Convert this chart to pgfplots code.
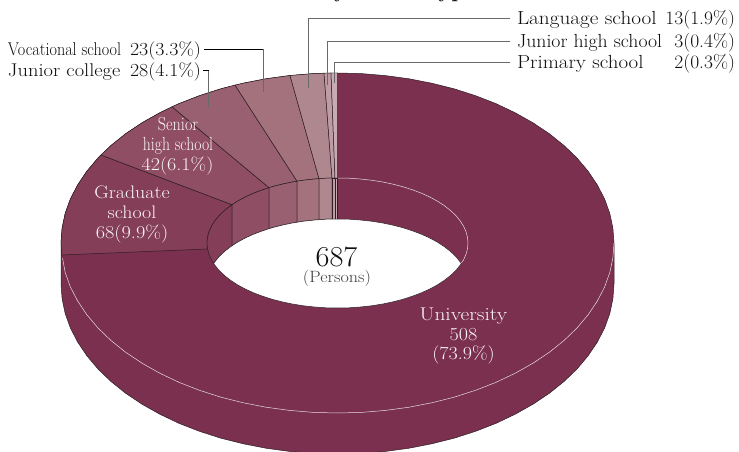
\documentclass[border=0pt]{standalone}
\usepackage{pgfplots}
\pgfplotsset{compat=1.18}
\definecolor{cuniv}{RGB}{122,48,78}
\definecolor{cgrad}{RGB}{132,62,88}
\definecolor{csr}{RGB}{143,78,100}
\definecolor{cjc}{RGB}{152,96,113}
\definecolor{cvoc}{RGB}{163,114,125}
\definecolor{clang}{RGB}{175,136,143}
\definecolor{cjhs}{RGB}{190,155,165}
\definecolor{cprim}{RGB}{200,170,178}
\definecolor{edge}{RGB}{45,30,36}
\definecolor{lite}{RGB}{232,222,226}
\definecolor{wtxt}{RGB}{250,245,247}
\definecolor{lead}{RGB}{105,105,105}
\definecolor{ink}{RGB}{15,15,15}
\newcommand\fs[1]{\fontsize{#1}{#1}\selectfont}
\begin{document}
\begin{tikzpicture}
\useasboundingbox (0,0) rectangle (739bp,452bp);
\clip (0,0) rectangle (739bp,452bp);
\begin{axis}[at={(0,0)},anchor=south west,width=739bp,height=452bp,scale only axis,
  xmin=0,xmax=739,ymin=0,ymax=452,y dir=reverse,hide axis,clip=false]
% body
\addplot[fill=cuniv,draw=edge,line width=.5pt] coordinates {
(61,284)(61,243)(62.1,228.2)(65.2,213.5)(70.4,199)(77.7,184.9)(86.9,171.2)(98,158)(111,145.5)(125.7,133.7)(142,122.8)(159.8,112.8)(178.9,103.7)(199.2,95.8)(220.6,88.9)(242.9,83.3)(265.9,78.8)(289.5,75.6)(313.4,73.6)(337.5,73)
(361.6,73.6)(385.5,75.6)(409.1,78.8)(432.1,83.3)(454.4,88.9)(475.8,95.8)(496.1,103.7)(515.2,112.8)(533,122.8)(549.3,133.7)(564,145.5)(577,158)(588.1,171.2)(597.3,184.9)(604.6,199)(609.8,213.5)(612.9,228.2)(614,243)
(614,284)(612.9,298.8)(609.8,313.5)(604.6,328)(597.3,342.1)(588.1,355.8)(577,369)(564,381.5)(549.3,393.3)(533,404.2)(515.2,414.2)(496.1,423.3)(475.8,431.2)(454.4,438.1)(432.1,443.7)(409.1,448.2)(385.5,451.4)(361.6,453.4)(337.5,454)
(313.4,453.4)(289.5,451.4)(265.9,448.2)(242.9,443.7)(220.6,438.1)(199.2,431.2)(178.9,423.3)(159.8,414.2)(142,404.2)(125.7,393.3)(111,381.5)(98,369)(86.9,355.8)(77.7,342.1)(70.4,328)(65.2,313.5)(62.1,298.8)(61,284)
} -- cycle;
% wedges
\addplot[fill=cgrad,draw=edge,line width=.5pt] coordinates {(61.8,255)(61,243)(62.1,228.2)(65.2,213.5)(70.4,199)(77.7,184.9)(86.9,171.2)(98,158)(101,155)(232,204.7)(230.6,205.7)(224.5,210.5)(219.2,215.5)(214.9,220.8)(211.4,226.2)(209,231.7)(207.5,237.3)(207,243)(207.2,249)} -- cycle;
\addplot[fill=csr,draw=edge,line width=.5pt] coordinates {(101,155)(111,145.5)(125.7,133.7)(142,122.8)(159.8,112.8)(172,106.8)(269,187.7)(262.6,189.8)(253.6,193.2)(245.2,197)(237.5,201.2)(232,204.7)} -- cycle;
\addplot[fill=cjc,draw=edge,line width=.5pt] coordinates {(172,106.8)(178.9,103.7)(199.2,95.8)(220.6,88.9)(235,85.1)(297,181.2)(292.9,181.9)(282.3,184.1)(272.2,186.7)(269,187.7)} -- cycle;
\addplot[fill=cvoc,draw=edge,line width=.5pt] coordinates {(235,85.1)(242.9,83.3)(265.9,78.8)(290,75.5)(319,178.7)(314.8,179)(303.7,180.2)(297,181.2)} -- cycle;
\addplot[fill=clang,draw=edge,line width=.5pt] coordinates {(290,75.5)(313.4,73.6)(324,73.2)(332,178)(326.1,178.2)(319,178.7)} -- cycle;
\addplot[fill=cjhs,draw=edge,line width=.5pt] coordinates {(324,73.2)(331,73)(335,178)(332,178)} -- cycle;
\addplot[fill=cprim,draw=edge,line width=.5pt] coordinates {(331,73)(337.5,73)(337.5,178)(335,178)} -- cycle;
% inner wall
\addplot[fill=cgrad,draw=edge,line width=.5pt] coordinates {(232,204.7)(230.6,205.7)(224.5,210.5)(219.2,215.5)(214.9,220.8)(211.4,226.2)(209,231.7)(207.5,237.3)(207,243)(207.5,248.7)(209,254.3)(211.4,259.8)(213.6,263.5)(214.9,261.8)(219.2,256.5)(224.5,251.5)(230.6,246.7)(232,245.7)} -- cycle;
\addplot[fill=csr,draw=edge,line width=.5pt] coordinates {(232,204.7)(237.5,201.2)(245.2,197)(253.6,193.2)(262.6,189.8)(269,187.7)(269,228.7)(262.6,230.8)(253.6,234.2)(245.2,238)(237.5,242.2)(232,245.7)} -- cycle;
\addplot[fill=cjc,draw=edge,line width=.5pt] coordinates {(269,187.7)(272.2,186.7)(282.3,184.1)(292.9,181.9)(297,181.2)(297,222.2)(292.9,222.9)(282.3,225.1)(272.2,227.7)(269,228.7)} -- cycle;
\addplot[fill=cvoc,draw=edge,line width=.5pt] coordinates {(297,181.2)(303.7,180.2)(314.8,179)(319,178.7)(319,219.7)(314.8,220)(303.7,221.2)(297,222.2)} -- cycle;
\addplot[fill=clang,draw=edge,line width=.5pt] coordinates {(319,178.7)(326.1,178.2)(332,178)(332,219)(326.1,219.2)(319,219.7)} -- cycle;
\addplot[fill=cjhs,draw=edge,line width=.5pt] coordinates {(332,178)(335,178)(335,219)(332,219)} -- cycle;
\addplot[fill=cprim,draw=edge,line width=.5pt] coordinates {(335,178)(337.5,178)(337.5,219)(335,219)} -- cycle;
% hole
\addplot[fill=white,draw=edge,line width=.5pt] coordinates {
(213.6,263.5)(214.9,261.8)(219.2,256.5)(224.5,251.5)(230.6,246.7)(237.5,242.2)(245.2,238)(253.6,234.2)(262.6,230.8)(272.2,227.7)(282.3,225.1)(292.9,222.9)(303.7,221.2)(314.8,220)(326.1,219.2)(337.5,219)
(348.9,219.2)(360.2,220)(371.3,221.2)(382.1,222.9)(392.7,225.1)(402.8,227.7)(412.4,230.8)(421.4,234.2)(429.8,238)(437.5,242.2)(444.4,246.7)(450.5,251.5)(455.8,256.5)(460.1,261.8)(461.4,263.5)
(460.1,265.2)(455.8,270.5)(450.5,275.5)(444.4,280.3)(437.5,284.8)(429.8,289)(421.4,292.8)(412.4,296.2)(402.8,299.3)(392.7,301.9)(382.1,304.1)(371.3,305.8)(360.2,307)(348.9,307.8)(337.5,308)
(326.1,307.8)(314.8,307)(303.7,305.8)(292.9,304.1)(282.3,301.9)(272.2,299.3)(262.6,296.2)(253.6,292.8)(245.2,289)(237.5,284.8)(230.6,280.3)(224.5,275.5)(219.2,270.5)(214.9,265.2)
} -- cycle;
% light edges of the large wedge
\addplot[draw=lite,line width=.5pt] coordinates {(614,243)(612.9,257.8)(609.8,272.5)(604.6,287)(597.3,301.1)(588.1,314.8)(577,328)(564,340.5)(549.3,352.3)(533,363.2)(515.2,373.2)(496.1,382.3)(475.8,390.2)(454.4,397.1)(432.1,402.7)(409.1,407.2)(385.5,410.4)(361.6,412.4)(337.5,413)(313.4,412.4)(289.5,410.4)(265.9,407.2)(242.9,402.7)(220.6,397.1)(199.2,390.2)(178.9,382.3)(159.8,373.2)(142,363.2)(125.7,352.3)(111,340.5)(98,328)(86.9,314.8)(77.7,301.1)(70.4,287)(65.2,272.5)(62.5,258)};
\addplot[draw=lite,line width=.5pt] coordinates {(338,178)(348.9,178.2)(360.2,179)(371.3,180.2)(382.1,181.9)(392.7,184.1)(402.8,186.7)(412.4,189.8)(421.4,193.2)(429.8,197)(437.5,201.2)(444.4,205.7)(450.5,210.5)(455.8,215.5)(460.1,220.8)(463.6,226.2)(466,231.7)(467.5,237.3)(468,243)(467.5,248.7)(466,254.3)(463.6,259.8)(461.4,263)};
% leaders
\addplot[draw=lead,line width=1pt] coordinates {(510,18)(308,18)(308,88)};
\addplot[draw=lead,line width=1pt] coordinates {(510,41.5)(327.7,41.5)(327.7,85)};
\addplot[draw=lead,line width=1pt] coordinates {(510,62.5)(334.3,62.5)(334.3,83)};
\addplot[draw=lead,line width=1pt] coordinates {(263,49.3)(263,92)};
\addplot[draw=black,line width=.6pt] coordinates {(204,49.3)(263,49.3)};
\addplot[draw=lead,line width=1pt] coordinates {(208.5,70.5)(208.5,107)};
\addplot[draw=black,line width=.6pt] coordinates {(203,70.5)(208.5,70.5)};
% texts
\node[anchor=base east,font=\fs{22}\bfseries,text=ink] at (477,-2.5) {Students by school type};
\tikzset{every node/.append style={inner sep=0pt,outer sep=0pt}}
\node[anchor=base west,text=ink,font=\fs{19},xscale=1.12] at (517,25) {Language school};
\node[anchor=base west,text=ink,font=\fs{19},xscale=1.045] at (517,47.7) {Junior high school};
\node[anchor=base west,text=ink,font=\fs{19},xscale=1.105] at (517,69) {Primary school};
\node[anchor=base east,text=ink,font=\fs{19},xscale=1.03] at (735,25) {13(1.9\%)};
\node[anchor=base east,text=ink,font=\fs{19},xscale=1.03] at (735,47.7) {3(0.4\%)};
\node[anchor=base east,text=ink,font=\fs{19},xscale=1.03] at (735,69) {2(0.3\%)};
\node[anchor=base west,text=ink,font=\fs{18.5},xscale=.878] at (8,56) {Vocational school};
\node[anchor=base west,text=ink,font=\fs{18.5},xscale=1.11] at (8,77) {Junior college};
\node[anchor=base east,text=ink,font=\fs{18.5},xscale=1.08] at (201,56) {23(3.3\%)};
\node[anchor=base east,text=ink,font=\fs{18.5},xscale=1.08] at (201,77) {28(4.1\%)};
\node[anchor=base,text=ink,font=\fs{29},xscale=1.05] at (336.5,266) {687};
\node[anchor=base,text=ink!80,font=\fs{16.4},xscale=1.11] at (337,282.7) {(Persons)};
\node[anchor=base,text=wtxt,font=\fs{18.5},xscale=1.16] at (463.5,320) {University};
\node[anchor=base,text=wtxt,font=\fs{18.5},xscale=1.09] at (463.5,340) {508};
\node[anchor=base,text=wtxt,font=\fs{18.5},xscale=1.09] at (463.5,359.5) {(73.9\%)};
\node[anchor=base,text=wtxt,font=\fs{18.2},xscale=1.1] at (132,198) {Graduate};
\node[anchor=base,text=wtxt,font=\fs{18.2},xscale=1.1] at (132,218) {school};
\node[anchor=base,text=wtxt,font=\fs{18.2},xscale=1.12] at (132,238) {68(9.9\%)};
\node[anchor=base,text=wtxt,font=\fs{19},xscale=.855] at (178,130) {Senior};
\node[anchor=base,text=wtxt,font=\fs{19},xscale=.83] at (178,150) {high school};
\node[anchor=base,text=wtxt,font=\fs{18.2},xscale=1.11] at (177.5,170) {42(6.1\%)};
\end{axis}
\end{tikzpicture}
\end{document}
